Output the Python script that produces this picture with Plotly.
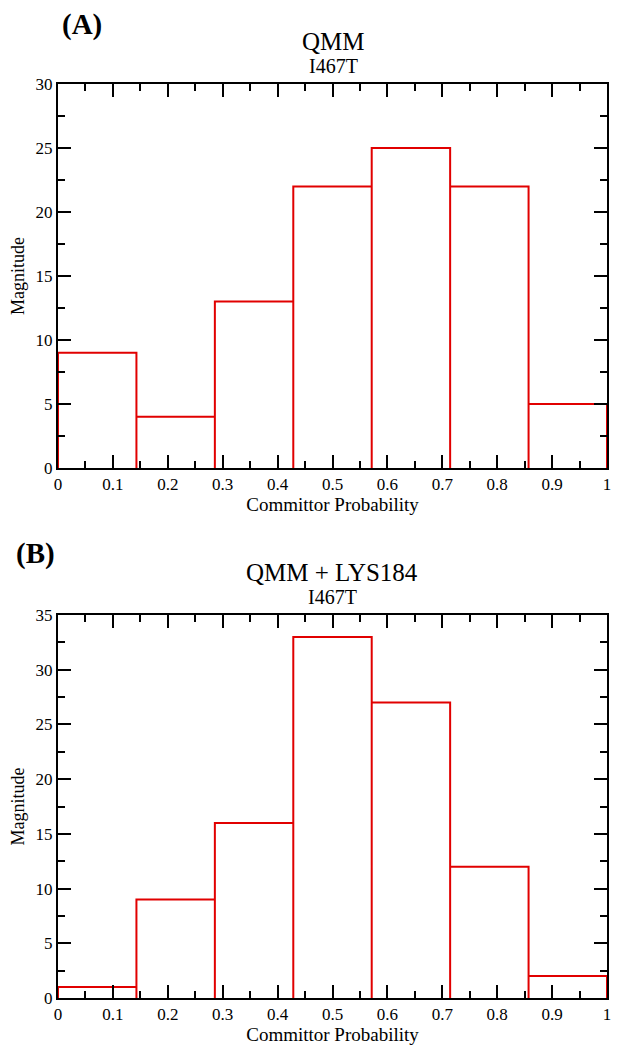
import plotly.graph_objects as go
from plotly.subplots import make_subplots

# Data
bin_edges = [0, 1/7, 2/7, 3/7, 4/7, 5/7, 6/7, 1.0]
qmm_counts = [9, 4, 13, 22, 25, 22, 5]
qmm_lys_counts = [1, 9, 16, 33, 27, 12, 2]
panel_titles = ["QMM", "QMM + LYS184"]
panel_subtitle = "I467T"
panel_labels = ["(A)", "(B)"]
x_label = "Committor Probability"
y_label = "Magnitude"
y_max = [30, 35]

OFF = 8  # page body margin
W, H = 621 - OFF, 1050 - OFF
L, R, T, B = 58 - OFF, 14, 84 - OFF, 52
PH = H - T - B
PW = W - L - R

def py(y):
    return 1 - (y - OFF - T) / PH

def px(x):
    return (x - OFF - L) / PW

FONT = "Liberation Serif"
RED = "rgb(225,0,0)"


def outline(edges, counts):
    xs, ys = [edges[0]], [0]
    for i, c in enumerate(counts):
        xs += [edges[i], edges[i + 1], edges[i + 1]]
        ys += [c, c, 0]
    return xs, ys


fig = make_subplots(rows=2, cols=1)
fig.update_layout(
    xaxis=dict(domain=[0, 1], anchor="y"),
    yaxis=dict(domain=[py(468), 1], anchor="x"),
    xaxis2=dict(domain=[0, 1], anchor="y2"),
    yaxis2=dict(domain=[0, py(615)], anchor="x2"),
)

for i, counts in enumerate([qmm_counts, qmm_lys_counts]):
    xs, ys = outline(bin_edges, counts)
    fig.add_trace(
        go.Scatter(x=xs, y=ys, mode="lines", line=dict(color=RED, width=2),
                   showlegend=False, hoverinfo="skip"),
        row=i + 1, col=1,
    )
    fig.update_xaxes(
        range=[0, 1], dtick=0.1, tick0=0, ticks="inside", ticklen=13, tickwidth=1.6,
        tickcolor="black", showline=True, linecolor="black", linewidth=2, mirror="allticks",
        showgrid=False, zeroline=False, automargin=False, layer="above traces",
        minor=dict(ticks="inside", ticklen=7, dtick=0.05, tickcolor="black", tickwidth=1.6, showgrid=False),
        tickfont=dict(family=FONT, size=17, color="black"),
        title=dict(text=x_label, font=dict(family=FONT, size=19, color="black"), standoff=0),
        row=i + 1, col=1,
    )
    fig.update_yaxes(
        range=[0, y_max[i]], dtick=5, tick0=0, ticks="inside", ticklen=13, tickwidth=1.6,
        tickcolor="black", showline=True, linecolor="black", linewidth=2, mirror="allticks",
        showgrid=False, zeroline=False, automargin=False, layer="above traces",
        minor=dict(ticks="inside", ticklen=7, dtick=2.5, tickcolor="black", tickwidth=1.6, showgrid=False),
        tickfont=dict(family=FONT, size=17, color="black"),
        title=dict(text=y_label, font=dict(family=FONT, size=18, color="black"), standoff=6),
        row=i + 1, col=1,
    )

ann = []
ann.append(dict(text="<b>" + panel_labels[0] + "</b>", x=px(82), y=py(24), font=dict(size=29)))
ann.append(dict(text=panel_titles[0], x=px(333), y=py(41), font=dict(size=25)))
ann.append(dict(text=panel_subtitle, x=px(333), y=py(66), font=dict(size=20)))
ann.append(dict(text="<b>" + panel_labels[1] + "</b>", x=px(35), y=py(553), font=dict(size=29)))
ann.append(dict(text=panel_titles[1], x=px(332), y=py(572), font=dict(size=25)))
ann.append(dict(text=panel_subtitle, x=px(332), y=py(597), font=dict(size=20)))
for a in ann:
    a.update(xref="paper", yref="paper", showarrow=False, xanchor="center", yanchor="middle")
    a["font"].update(family=FONT, color="black")

fig.update_layout(
    annotations=ann,
    font=dict(family=FONT, color="black"),
    width=W, height=H,
    margin=dict(l=L, r=R, t=T, b=B, autoexpand=False),
    paper_bgcolor="white", plot_bgcolor="white",
)

fig.write_html("out.html")
